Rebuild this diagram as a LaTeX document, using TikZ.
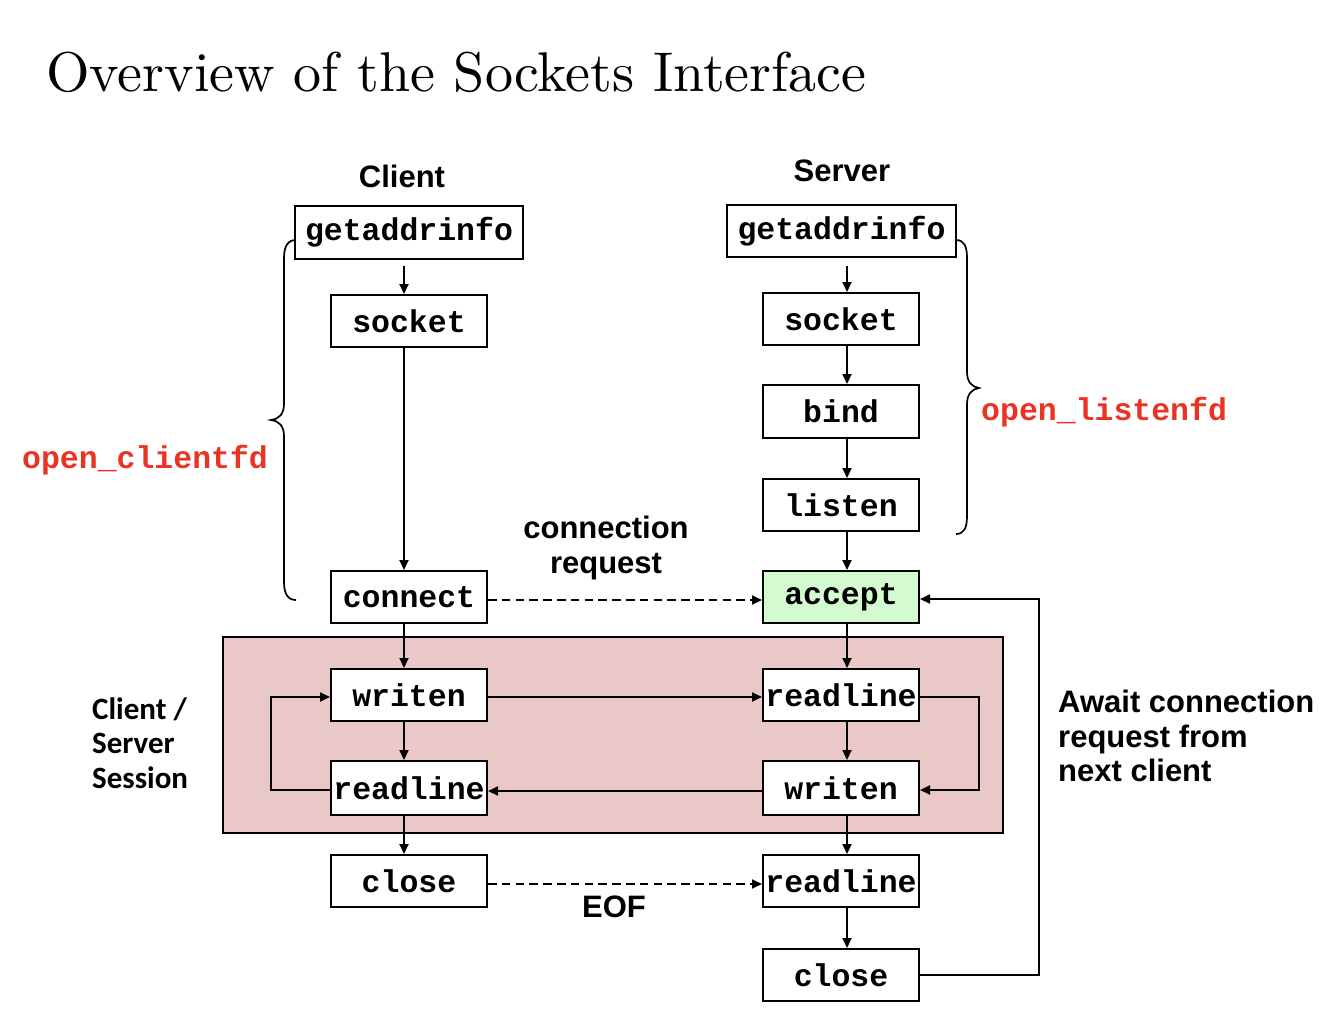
\documentclass[tikz,border=0pt]{standalone}
\usepackage{fontspec}
\newfontfamily\hvfont{Liberation Sans}
\newfontfamily\courfont{Liberation Mono}
\newfontfamily\carlfont{Carlito}
\newfontfamily\titlefont{lmroman10-regular.otf}
\usetikzlibrary{arrows.meta}
\definecolor{pinkbg}{RGB}{234,200,200}
\definecolor{greenbg}{RGB}{212,250,208}
\definecolor{redtxt}{RGB}{234,51,35}
\begin{document}
\begin{tikzpicture}[x=1pt,y=-1pt,
 box/.style={draw,line width=2pt,fill=white,inner sep=0pt,minimum height=52pt,font=\courfont\bfseries\fontsize{31.5}{36}\selectfont},
 sbox/.style={box,minimum width=156pt},
 arr/.style={line width=2pt,-{Triangle[length=10pt,width=9pt]}},
 dsh/.style={arr,dash pattern=on 8.5pt off 5.3pt},
 lbl/.style={font=\hvfont\bfseries\fontsize{31}{34.5}\selectfont,inner sep=0pt},
 redl/.style={font=\courfont\bfseries\fontsize{31.5}{36}\selectfont,text=redtxt,inner sep=0pt},
 brace/.style={line width=1.7pt}]
\useasboundingbox (0,0) rectangle (1342,1012);
\fill[white] (0,0) rectangle (1342,1012);

\node[anchor=base west,inner sep=0pt,font=\titlefont\fontsize{56}{60}\selectfont] (title) at (46,91) {Overview of the Sockets Interface};

\draw[fill=pinkbg,line width=1.6pt] (223,637) rectangle (1003,833);

% client
\node[box,minimum width=228pt,minimum height=53pt] (cga) at (409,232.5) {getaddrinfo};
\node[sbox] (csock) at (409,321) {socket};
\node[sbox] (cconn) at (409,597) {connect};
\node[sbox] (cwrite) at (409,695) {writen};
\node[sbox,minimum height=54pt] (cread) at (409,788) {readline};
\node[sbox] (cclose) at (409,881) {close};

% server
\node[box,minimum width=229pt] (sga) at (841.5,231) {getaddrinfo};
\node[sbox] (ssock) at (841,319) {socket};
\node[sbox,minimum height=53pt] (sbind) at (841,411.5) {bind};
\node[sbox] (slisten) at (841,505) {listen};
\node[sbox,fill=greenbg] (saccept) at (841,597) {accept};
\node[sbox] (sread) at (841,695) {readline};
\node[sbox,minimum height=54pt] (swrite) at (841,788) {writen};
\node[sbox] (sread2) at (841,881) {readline};
\node[sbox] (sclose) at (841,975) {close};

\coordinate (cx) at (404,0);
\coordinate (sx) at (847,0);
\coordinate (cl) at (271,0);
\coordinate (sr) at (979,0);
\coordinate (fr) at (1039,0);

% client vertical arrows
\draw[arr,shorten <=6pt] (cga.south -| cx) -- (csock.north -| cx);
\draw[arr] (csock.south -| cx) -- (cconn.north -| cx);
\draw[arr] (cconn.south -| cx) -- (cwrite.north -| cx);
\draw[arr] (cwrite.south -| cx) -- (cread.north -| cx);
\draw[arr] (cread.south -| cx) -- (cclose.north -| cx);

% server vertical arrows
\draw[arr,shorten <=8pt] (sga.south -| sx) -- (ssock.north -| sx);
\draw[arr] (ssock.south -| sx) -- (sbind.north -| sx);
\draw[arr] (sbind.south -| sx) -- (slisten.north -| sx);
\draw[arr] (slisten.south -| sx) -- (saccept.north -| sx);
\draw[arr] (saccept.south -| sx) -- (sread.north -| sx);
\draw[arr] (sread.south -| sx) -- (swrite.north -| sx);
\draw[arr] (swrite.south -| sx) -- (sread2.north -| sx);
\draw[arr] (sread2.south -| sx) -- (sclose.north -| sx);

% session arrows
\draw[arr] ([yshift=-2pt]cwrite.east) -- ([yshift=-2pt]sread.west);
\draw[arr] ([yshift=-3pt]swrite.west) -- ([yshift=-3pt]cread.east);
\draw[arr] ([yshift=-2pt]cread.west) -- ([yshift=-2pt]cread.west -| cl) -- ([yshift=-2pt]cwrite.west -| cl) -- ([yshift=-2pt]cwrite.west);
\draw[arr] ([yshift=-2pt]sread.east) -- ([yshift=-2pt]sread.east -| sr) -- ([yshift=-2pt]swrite.east -| sr) -- ([yshift=-2pt]swrite.east);

% dashed
\draw[dsh] ([yshift=-3pt]cconn.east) -- ([yshift=-3pt]saccept.west);
\draw[dsh] ([yshift=-3pt]cclose.east) -- ([yshift=-3pt]sread2.west);

% loop back
\draw[arr] (sclose.east) -- (sclose.east -| fr) -- ([yshift=-2pt]saccept.east -| fr) -- ([yshift=-2pt]saccept.east);

% braces
\draw[brace] (296,240) .. controls (288,240) and (284,246) .. (284,258) -- (284,404)
  .. controls (284,414) and (279,419) .. (271,420)
  .. controls (279,421) and (284,426) .. (284,436) -- (284,582)
  .. controls (284,594) and (288,600) .. (296,600);
\draw[brace] (956,240) .. controls (964,240) and (967,246) .. (967,258) -- (967,372)
  .. controls (967,382) and (972,387) .. (979,388)
  .. controls (972,389) and (967,394) .. (967,404) -- (967,516)
  .. controls (967,528) and (964,534) .. (956,534);

% labels
\node[lbl] (clientlbl) at (402,176.5) {Client};
\node[lbl] (serverlbl) at (842,171) {Server};
\node[redl,anchor=base west] (ocf) at (22,468) {open\_clientfd};
\node[redl,anchor=base west] (olf) at (981,420) {open\_listenfd};
\node[lbl,align=center] (creq) at (606,548) {connection\\request};
\node[lbl,align=left,anchor=west,font=\carlfont\bfseries\fontsize{31}{34.5}\selectfont] (sess) at (92,743) {Client /\\Server\\Session};
\node[lbl,align=left,anchor=west] (await) at (1058,736) {Await connection\\request from\\next client};
\node[lbl] (eof) at (614,906.5) {EOF};
\end{tikzpicture}
\end{document}
